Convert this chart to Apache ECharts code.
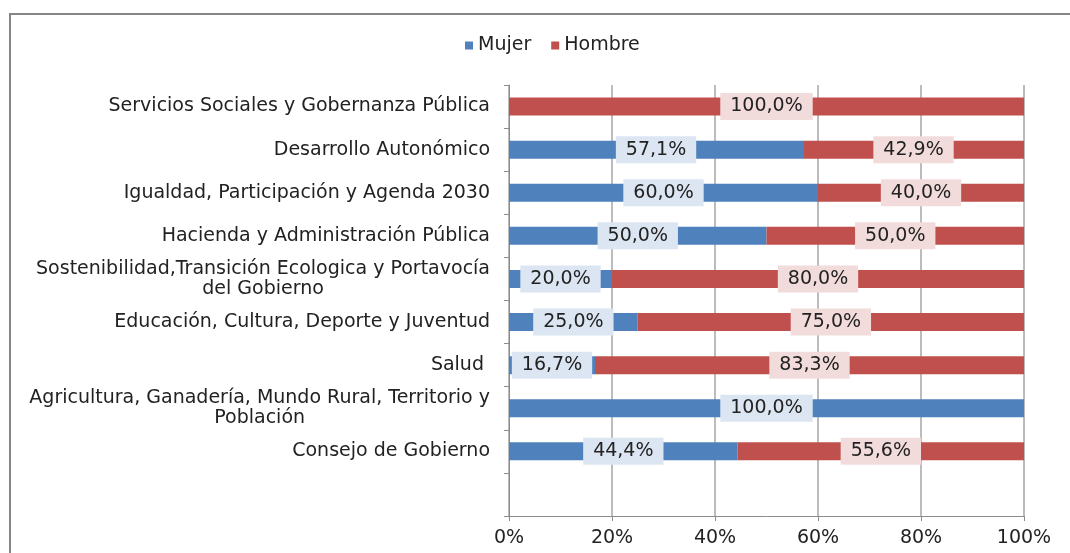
<!DOCTYPE html>
<html>
<head>
<meta charset="utf-8">
<script src="https://cdn.jsdelivr.net/npm/echarts@6/dist/echarts.min.js"></script>
<style>
html, body { margin: 0; padding: 0; background: #fff; }
#chart { width: 1070px; height: 553px; }
</style>
</head>
<body>
<div id="chart"></div>
<script type="text/javascript">
// categorias de arriba a abajo (la ultima fila va vacia, como en el original)
var categorias = [
    'Servicios Sociales y Gobernanza Pública',
    'Desarrollo Autonómico',
    'Igualdad, Participación y Agenda 2030',
    'Hacienda y Administración Pública',
    'Sostenibilidad,Transición Ecologica y Portavocía\ndel Gobierno',
    'Educación, Cultura, Deporte y Juventud',
    'Salud ',
    'Agricultura, Ganadería, Mundo Rural, Territorio y\nPoblación',
    'Consejo de Gobierno',
    ''
];
var mujer  = [0, 57.1, 60.0, 50.0, 20.0, 25.0, 16.7, 100.0, 44.4, null];
var hombre = [100.0, 42.9, 40.0, 50.0, 80.0, 75.0, 83.3, 0, 55.6, null];
var ticksX = [0, 20, 40, 60, 80, 100];

function pct(v) {
    return v.toFixed(1).replace('.', ',') + '%';
}
function items(arr) {
    return arr.map(function (v) {
        return { value: v, label: { show: v > 0 } };
    });
}

var myChart = echarts.init(document.getElementById('chart'));
var option = {
    animation: false,
    textStyle: { fontFamily: 'DejaVu Sans, sans-serif' },
    graphic: [{
        type: 'rect',
        shape: { x: 10, y: 14, width: 1080, height: 560 },
        style: { fill: 'none', stroke: '#858585', lineWidth: 2 },
        silent: true
    }],
    color: ['#4f81bd', '#c0504d'],
    legend: {
        data: ['Mujer', 'Hombre'],
        icon: 'rect',
        top: 31,
        left: 460,
        itemWidth: 8,
        itemHeight: 8,
        itemGap: 20,
        textStyle: { fontSize: 19, color: '#222' }
    },
    grid: { left: 509, right: 46, top: 85, bottom: 37 },
    xAxis: {
        type: 'value',
        min: 0,
        max: 100,
        interval: 20,
        axisLine: { show: true, lineStyle: { color: '#8c8c8c', width: 1 } },
        axisTick: { show: true, length: 5, lineStyle: { color: '#8c8c8c' } },
        splitLine: { show: true, lineStyle: { color: '#a6a6a6', width: 1.5 } },
        axisLabel: {
            fontSize: 19,
            color: '#222',
            margin: 13,
            formatter: function (v) { return ticksX.indexOf(v) >= 0 ? v + '%' : ''; }
        }
    },
    yAxis: {
        type: 'category',
        inverse: true,
        data: categorias,
        axisLine: { show: true, lineStyle: { color: '#8c8c8c', width: 1 } },
        axisTick: { show: true, length: 5, lineStyle: { color: '#8c8c8c' } },
        axisLabel: {
            fontSize: 19,
            color: '#222',
            margin: 19,
            lineHeight: 20,
            formatter: function (v) {
                return v.split('\n').map(function (s) { return '{c|' + s + '}'; }).join('\n');
            },
            rich: { c: { align: 'center', fontSize: 19, color: '#222', lineHeight: 20 } }
        }
    },
    series: [{
        name: 'Mujer',
        type: 'bar',
        stack: 'total',
        barWidth: 18,
        data: items(mujer),
        label: {
            show: true,
            position: 'inside',
            fontSize: 19,
            lineHeight: 19,
            color: '#222',
            backgroundColor: '#dce6f2',
            padding: [4, 10, 4, 10],
            formatter: function (p) { return pct(p.value); }
        }
    }, {
        name: 'Hombre',
        type: 'bar',
        stack: 'total',
        barWidth: 18,
        data: items(hombre),
        label: {
            show: true,
            position: 'inside',
            fontSize: 19,
            lineHeight: 19,
            color: '#222',
            backgroundColor: '#f2dcdb',
            padding: [4, 10, 4, 10],
            formatter: function (p) { return pct(p.value); }
        }
    }]
};
myChart.setOption(option);
</script>
</body>
</html>
